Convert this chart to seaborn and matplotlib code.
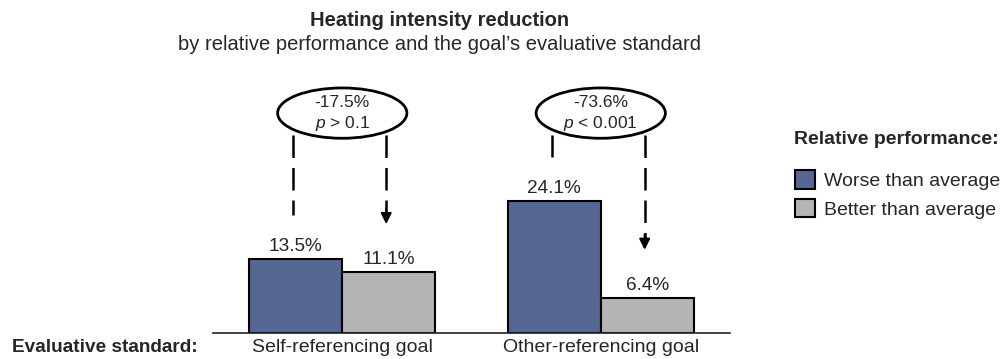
import pandas as pd
import seaborn as sns
import matplotlib.pyplot as plt
from matplotlib.patches import Ellipse, Patch

# data
groups = ["Self-referencing goal", "Other-referencing goal"]
performance = ["Worse than average", "Better than average"]
worse = [13.5, 24.1]
better = [11.1, 6.4]
diff_labels = ["-17.5%", "-73.6%"]
p_labels = ["$p$ > 0.1", "$p$ < 0.001"]

sns.set_theme(style="white")
plt.rcParams["font.family"] = ["Liberation Sans", "DejaVu Sans"]
plt.rcParams["mathtext.fontset"] = "custom"
plt.rcParams["mathtext.it"] = "Liberation Sans:italic"
plt.rcParams["mathtext.rm"] = "Liberation Sans"

df = pd.DataFrame({
    "goal": groups * 2,
    "perf": [performance[0]] * 2 + [performance[1]] * 2,
    "value": worse + better,
})
colors = ["#566695", "#b4b4b4"]

fig = plt.figure(figsize=(10.01, 3.59), dpi=100)
ax = fig.add_axes([213 / 1001, 26 / 359, 517 / 1001, 273.5 / 359])

sns.barplot(data=df, x="goal", y="value", hue="perf", palette=colors,
            width=0.72, edgecolor="black", linewidth=1.5, saturation=1,
            legend=False, ax=ax)

ax.set_xlim(-0.5, 1.5)
ax.set_ylim(0, 50)
for s in ["top", "right", "left"]:
    ax.spines[s].set_visible(False)
ax.spines["bottom"].set_color("#222222")
ax.spines["bottom"].set_linewidth(1.2)
ax.set_yticks([])
ax.set_xlabel("")
ax.set_ylabel("")
ax.tick_params(axis="x", length=0, pad=4, labelsize=14)

# value labels
for c in ax.containers:
    ax.bar_label(c, labels=[f"{v:.1f}%" for v in c.datavalues], padding=3, fontsize=13.7)

# ellipses with differences and dashed arrows
ey = 40.2
for i in range(len(groups)):
    ax.add_patch(Ellipse((i, ey), 0.5, 9.2, facecolor="white",
                         edgecolor="black", linewidth=2, zorder=5))
    ax.text(i, ey + 2.0, diff_labels[i], ha="center", va="center", fontsize=12.5, zorder=6)
    ax.text(i, ey - 1.9, p_labels[i], ha="center", va="center", fontsize=12.5, zorder=6)
    xl, xr = i - 0.19, i + 0.17
    ax.plot([xl, xl], [ey - 4.0, worse[i] + 8], color="black", lw=1.8,
            dashes=(9, 4), zorder=4)
    tip = better[i] + 8.8
    ax.plot([xr, xr], [ey - 4.0, tip + 2], color="black", lw=1.8,
            dashes=(9, 4), zorder=4)
    ax.annotate("", xy=(xr, tip), xytext=(xr, tip + 2.8),
                arrowprops=dict(arrowstyle="-|>", color="black", lw=1.5,
                                mutation_scale=16, shrinkA=0, shrinkB=0))

# titles
fig.text(440 / 1001, 1 - 21 / 359, "Heating intensity reduction", ha="center",
         va="center", fontsize=14.5, fontweight="bold")
fig.text(440 / 1001, 1 - 45 / 359,
         "by relative performance and the goal\u2019s evaluative standard",
         ha="center", va="center", fontsize=14.5)
fig.text(12 / 1001, 1 - 347 / 359, "Evaluative standard:", ha="left",
         va="center", fontsize=13.7, fontweight="bold")

# legend
fig.text(794 / 1001, 1 - 140 / 359, "Relative performance:", ha="left",
         va="center", fontsize=14, fontweight="bold")
handles = [Patch(facecolor=colors[k], edgecolor="black", linewidth=1.5)
           for k in range(2)]
fig.legend(handles, performance, loc="center left",
           bbox_to_anchor=(795 / 1001, 1 - 194.5 / 359),
           frameon=False, fontsize=14,
           handlelength=1.05, handleheight=1.05, handletextpad=0.45,
           labelspacing=0.45, borderpad=0, borderaxespad=0)

fig.savefig("out.png", dpi=100)
